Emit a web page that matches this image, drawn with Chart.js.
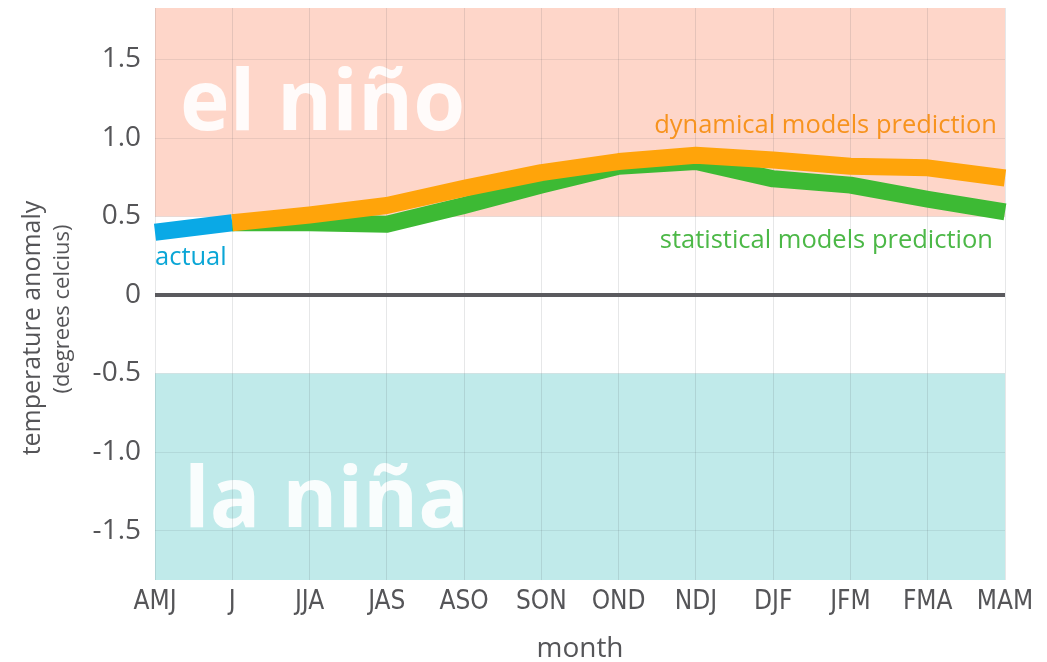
<!DOCTYPE html>
<html>
<head>
<meta charset="utf-8">
<script src="https://cdn.jsdelivr.net/npm/chart.js@4.4.1/dist/chart.umd.min.js"></script>
<style>
html,body{margin:0;padding:0;background:#fff;}
#wrap{width:1047px;height:662px;position:relative;}
</style>
</head>
<body>
<div id="wrap"><canvas id="c" width="1047" height="662"></canvas></div>
<script>
// ---- data ----
const months = ['AMJ','J','JJA','JAS','ASO','SON','OND','NDJ','DJF','JFM','FMA','MAM'];
const actual = [0.40, 0.46, null, null, null, null, null, null, null, null, null, null];
const dynamical = [null, 0.46, 0.51, 0.57, 0.68, 0.78, 0.85, 0.89, 0.86, 0.82, 0.81, 0.745];
const statistical = [null, 0.46, 0.46, 0.45, 0.57, 0.70, 0.82, 0.85, 0.74, 0.70, 0.61, 0.53];
const yTicks = [-1.5, -1.0, -0.5, 0, 0.5, 1.0, 1.5];
const yMin = -1.815, yMax = 1.828;
const elNinoThreshold = 0.5, laNinaThreshold = -0.5;

const bandPlugin = {
  id: 'bands',
  beforeDraw(chart) {
    const {ctx, chartArea: a, scales: {y}} = chart;
    ctx.save();
    const yHi = y.getPixelForValue(elNinoThreshold);
    const yLo = y.getPixelForValue(laNinaThreshold);
    ctx.fillStyle = '#fed6c9';
    ctx.fillRect(a.left, a.top, a.right - a.left, yHi - a.top);
    ctx.fillStyle = '#c0eaea';
    ctx.fillRect(a.left, yLo, a.right - a.left, a.bottom - yLo);
    // big labels
    ctx.fillStyle = 'rgba(255,255,255,0.9)';
    ctx.font = 'bold 84px "Open Sans"';
    ctx.textAlign = 'left';
    ctx.textBaseline = 'alphabetic';
    ctx.fillText('el niño', a.left + 25, y.getPixelForValue(1.05));
    ctx.fillText('la niña', a.left + 29, y.getPixelForValue(-1.48));
    ctx.restore();
  },
  afterDraw(chart) {
    const {ctx, chartArea: a, scales: {x, y}} = chart;
    ctx.save();
    ctx.font = '25.5px "Open Sans"';
    ctx.textBaseline = 'alphabetic';
    ctx.fillStyle = '#0aa6d6';
    ctx.textAlign = 'left';
    ctx.fillText('actual', a.left, y.getPixelForValue(0.19));
    ctx.fillStyle = '#f7931e';
    ctx.textAlign = 'right';
    ctx.fillText('dynamical models prediction', a.right - 8, y.getPixelForValue(1.03));
    ctx.fillStyle = '#4cb847';
    ctx.fillText('statistical models prediction', a.right - 12, y.getPixelForValue(0.3));
    // axis titles
    ctx.fillStyle = '#555558';
    ctx.textAlign = 'center';
    ctx.font = '28px "Open Sans"';
    ctx.fillText('month', (a.left + a.right) / 2, 657);
    ctx.save();
    ctx.translate(40, 328);
    ctx.rotate(-Math.PI / 2);
    ctx.font = '25px "Open Sans"';
    ctx.fillText('temperature anomaly', 0, 0);
    ctx.restore();
    ctx.save();
    ctx.translate(69, 309);
    ctx.rotate(-Math.PI / 2);
    ctx.font = '22px "Open Sans"';
    ctx.fillText('(degrees celcius)', 0, 0);
    ctx.restore();
    ctx.restore();
  }
};

new Chart(document.getElementById('c'), {
  type: 'line',
  data: {
    labels: months,
    datasets: [
      {label: 'dynamical', data: dynamical, borderColor: '#ffa40a', borderWidth: 17, pointRadius: 0, order: 1, borderCapStyle: 'butt', borderJoinStyle: 'round', tension: 0},
      {label: 'statistical', data: statistical, borderColor: '#3dba34', borderWidth: 17, pointRadius: 0, order: 2, borderCapStyle: 'butt', borderJoinStyle: 'round', tension: 0},
      {label: 'actual', data: actual, borderColor: '#0aa9e6', borderWidth: 17, pointRadius: 0, order: 3, borderCapStyle: 'butt', tension: 0}
    ]
  },
  options: {
    responsive: false,
    animation: false,
    events: [],
    spanGaps: false,
    layout: {padding: {top: 8, right: 42, left: 0, bottom: 0}},
    plugins: {legend: {display: false}, tooltip: {enabled: false}},
    scales: {
      x: {
        type: 'category',
        offset: false,
        afterFit(s) { s.height = 82; s.paddingLeft = 0; s.paddingRight = 0; },
        border: {display: false},
        grid: {color: 'rgba(60,70,80,0.13)', drawTicks: false, lineWidth: 1},
        ticks: {color: '#555558', padding: 7, maxRotation: 0, autoSkip: false,
          font: {family: '"DejaVu Sans Condensed", "Open Sans"', size: 26}}
      },
      y: {
        min: yMin, max: yMax,
        afterFit(s) { s.width = 155; s.paddingTop = 0; s.paddingBottom = 0; },
        afterBuildTicks(s) { s.ticks = yTicks.map(v => ({value: v})); },
        border: {display: false},
        grid: {
          drawTicks: false,
          color: c => c.tick && c.tick.value === 0 ? '#5a5a5e' : 'rgba(60,70,80,0.10)',
          lineWidth: c => c.tick && c.tick.value === 0 ? 4 : 1
        },
        ticks: {color: '#555558', padding: 14,
          font: {family: '"Open Sans"', size: 28},
          callback: v => v === 0 ? '0' : v.toFixed(1)}
      }
    }
  },
  plugins: [bandPlugin]
});
</script>
</body>
</html>
